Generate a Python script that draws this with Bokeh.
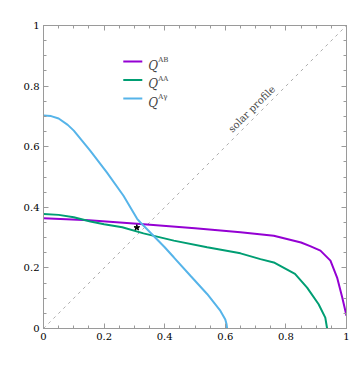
import math
from bokeh.plotting import figure
from bokeh.models import Label, LinearAxis, FixedTicker, Range1d
from bokeh.embed import file_html
from bokeh.resources import INLINE

# ---- data ----
x_ab = [0.0, 0.15, 0.32, 0.5, 0.65, 0.76, 0.85, 0.88, 0.914, 0.947, 0.969, 0.986, 1.0]
y_ab = [0.364, 0.357, 0.345, 0.331, 0.318, 0.306, 0.284, 0.272, 0.257, 0.224, 0.168, 0.102, 0.042]

x_aa = [0.0, 0.05, 0.1, 0.155, 0.2, 0.26, 0.33, 0.43, 0.54, 0.65, 0.716, 0.76, 0.83, 0.87, 0.908, 0.93, 0.936]
y_aa = [0.378, 0.375, 0.367, 0.353, 0.344, 0.334, 0.314, 0.29, 0.268, 0.248, 0.229, 0.218, 0.18, 0.135, 0.08, 0.036, 0.0]

x_ag = [0.0, 0.025, 0.05, 0.08, 0.1, 0.154, 0.209, 0.264, 0.309, 0.32, 0.4, 0.43, 0.485, 0.54, 0.584, 0.6, 0.604, 0.606]
y_ag = [0.703, 0.701, 0.693, 0.672, 0.653, 0.587, 0.515, 0.438, 0.362, 0.350, 0.268, 0.235, 0.174, 0.114, 0.058, 0.03, 0.015, 0.0]

diag_x = [0.0, 1.0]
diag_y = [0.0, 1.0]

star_x = [0.308]
star_y = [0.333]

ticks = [0.0, 0.2, 0.4, 0.6, 0.8, 1.0]
tick_labels = ["0", "0.2", "0.4", "0.6", "0.8", "1"]
minor = [i * 0.05 for i in range(21)]

series_labels = ["AB", "AA", "A\u03b3"]
colors = ["#9400D3", "#009E73", "#56B4E9"]

SERIF = "DejaVu Serif"
GRAY = "#9a9a9a"

# ---- figure ----
p = figure(frame_width=303, frame_height=303,
           x_range=Range1d(0, 1), y_range=Range1d(0, 1),
           output_backend="svg", toolbar_location=None,
           min_border_left=43, min_border_right=8,
           min_border_top=25, min_border_bottom=43)
p.xgrid.visible = False
p.ygrid.visible = False
p.outline_line_color = GRAY
p.background_fill_color = "white"
p.border_fill_color = "white"


def style_axis(ax, show_labels):
    ax.ticker = FixedTicker(ticks=ticks, minor_ticks=minor)
    ax.axis_line_color = GRAY
    ax.major_tick_line_color = GRAY
    ax.minor_tick_line_color = GRAY
    ax.major_tick_in = 5
    ax.major_tick_out = 0
    ax.minor_tick_in = 3
    ax.minor_tick_out = 0
    if show_labels:
        ax.major_label_overrides = {t: l for t, l in zip(ticks, tick_labels)}
        ax.major_label_text_font = SERIF
        ax.major_label_text_font_size = "10px"
        ax.major_label_text_color = "black"
        ax.major_label_standoff = 4
    else:
        ax.major_label_overrides = {t: "" for t in ticks}
        ax.major_label_standoff = 0


style_axis(p.xaxis[0], True)
style_axis(p.yaxis[0], True)
ra = LinearAxis()
ta = LinearAxis()
p.add_layout(ra, "right")
p.add_layout(ta, "above")
style_axis(ra, False)
style_axis(ta, False)

# diagonal solar profile
p.line(diag_x, diag_y, line_color="#999999", line_width=0.8, line_dash="3 4")

# curves
p.line(x_ab, y_ab, line_color=colors[0], line_width=2)
p.line(x_aa, y_aa, line_color=colors[1], line_width=2)
p.line(x_ag, y_ag, line_color=colors[2], line_width=2)

p.scatter(star_x, star_y, marker="star", size=6, fill_color="black", line_color="black")

# helper: pixel (reference screenshot) -> data
def fx(px):
    return (px - 43.3) / 302.7


def fy(py):
    return (327.7 - py) / 302.7


# legend
leg_y = [61, 79.5, 98]
for lab, col, ly in zip(series_labels, colors, leg_y):
    p.line([fx(123), fx(142)], [fy(ly), fy(ly)], line_color=col, line_width=2)
    p.add_layout(Label(x=fx(148), y=fy(ly + 4), text="Q", text_font=SERIF,
                       text_font_style="italic", text_font_size="12px",
                       text_align="left", text_baseline="alphabetic"))
    p.add_layout(Label(x=fx(158), y=fy(ly - 1.5), text=lab, text_font=SERIF,
                       text_font_size="7px", text_align="left",
                       text_baseline="alphabetic"))

# solar profile text
p.add_layout(Label(x=0.70, y=0.712, text="solar profile", text_font=SERIF,
                   text_font_size="10px", angle=math.pi / 4,
                   text_align="center", text_baseline="bottom"))

# title
p.add_layout(Label(x=0.5, y=fy(10.5), text="Sun", text_font=SERIF,
                   text_font_size="11px", text_align="center",
                   text_baseline="middle"))

# x axis label r_T
p.add_layout(Label(x=fx(196), y=fy(358), text="r", text_font=SERIF,
                   text_font_style="italic", text_font_size="14px",
                   text_align="right", text_baseline="alphabetic"))
p.add_layout(Label(x=fx(196.5), y=fy(361), text="T", text_font=SERIF,
                   text_font_style="italic", text_font_size="9px",
                   text_align="left", text_baseline="alphabetic"))

# y axis label r_n
p.add_layout(Label(x=fx(17.5), y=fy(178), text="r", text_font=SERIF,
                   text_font_style="italic", text_font_size="14px",
                   angle=math.pi / 2, text_align="right",
                   text_baseline="alphabetic"))
p.add_layout(Label(x=fx(20.5), y=fy(178), text="n", text_font=SERIF,
                   text_font_style="italic", text_font_size="9px",
                   angle=math.pi / 2, text_align="left",
                   text_baseline="alphabetic"))

open("out.html", "w").write(file_html(p, INLINE))
